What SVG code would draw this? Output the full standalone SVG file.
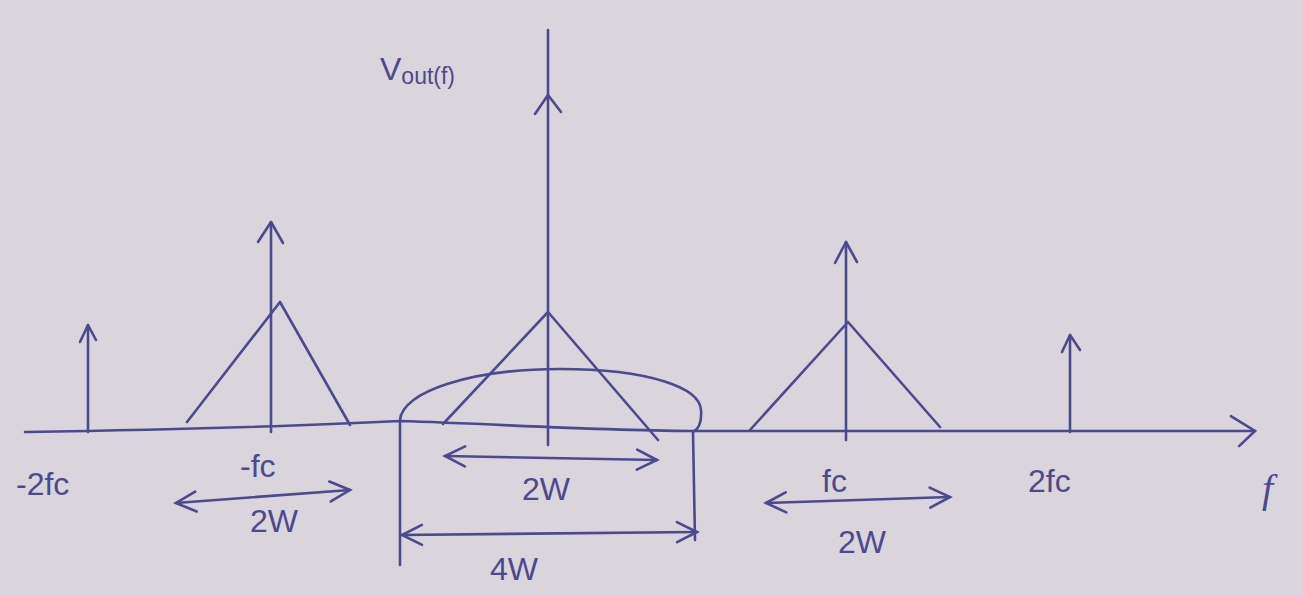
<svg xmlns="http://www.w3.org/2000/svg" width="1303" height="596" viewBox="0 0 1303 596">
<defs>
<style>
.ink{fill:none;stroke:#4b4a8c;stroke-width:2.6;stroke-linecap:round;stroke-linejoin:round}
.lbl{fill:#4b4a8c;font-family:"Liberation Sans","DejaVu Sans",sans-serif;font-size:32px}
.big{font-size:40px;font-style:italic;font-family:"Liberation Serif",serif}
</style>
<marker id="oa" markerUnits="userSpaceOnUse" markerWidth="30" markerHeight="30" refX="22" refY="12" orient="auto-start-reverse" viewBox="0 0 30 24">
<path d="M2,2 L22,12 L2,22" fill="none" stroke="#4b4a8c" stroke-width="2.6" stroke-linecap="round"/>
</marker>
<marker id="ob" markerUnits="userSpaceOnUse" markerWidth="34" markerHeight="40" refX="26" refY="17" orient="auto" viewBox="0 0 34 34">
<path d="M2,2 L26,17 L10,32" fill="none" stroke="#4b4a8c" stroke-width="2.6" stroke-linecap="round"/>
</marker>
</defs>
<rect width="1303" height="596" fill="#dad4dd"/>
<g id="connectors">
<path id="f-axis" class="ink" d="M25,432 C150,430 300,426 400,421 C500,424 600,431 700,431 C900,430 1100,432 1255,431" marker-end="url(#ob)"/>
<path id="v-axis" class="ink" d="M548,30 L548,445"/>
<polyline class="ink" points="535,114 548,95 561,112"/>
<path id="dim-neg" class="ink" d="M176,503 L350,490" marker-start="url(#oa)" marker-end="url(#oa)"/>
<path id="dim-center" class="ink" d="M445,456 L657,460" marker-start="url(#oa)" marker-end="url(#oa)"/>
<path id="tick-l" class="ink" d="M400,421 L400,565"/>
<path id="tick-r" class="ink" d="M693,432 L695,540"/>
<path id="dim-4w" class="ink" d="M402,535 L697,532" marker-start="url(#oa)" marker-end="url(#oa)"/>
<path id="dim-pos" class="ink" d="M766,503 L950,497" marker-start="url(#oa)" marker-end="url(#oa)"/>
</g>
<g id="impulse-neg2fc">
<path class="ink" d="M88,432 L88,325"/>
<polyline class="ink" points="80,342 88,325 96,340"/>
</g>
<g id="triangle-negfc">
<path class="ink" d="M187,422 L280,302 L350,425"/>
<path class="ink" d="M271,432 L271,222"/>
<polyline class="ink" points="258,242 271,222 283,243"/>
</g>
<g id="triangle-center">
<path class="ink" d="M443,424 L548,312 L658,440"/>
</g>
<g id="lobe">
<path class="ink" d="M400,420 C402,392 470,369 560,369 C650,369 700,388 701,410 C702,424 697,430 693,432"/>
</g>
<g id="triangle-fc">
<path class="ink" d="M750,430 L848,322 L940,427"/>
<path class="ink" d="M846,440 L846,242"/>
<polyline class="ink" points="835,263 846,242 857,262"/>
</g>
<g id="impulse-2fc">
<path class="ink" d="M1070,432 L1070,335"/>
<polyline class="ink" points="1062,352 1070,335 1080,350"/>
</g>
<g id="labels">
<text class="lbl" x="380" y="80">V<tspan font-size="23" dy="4">out(f)</tspan></text>
<text class="lbl" x="16" y="495">-2fc</text>
<text class="lbl" x="240" y="477">-fc</text>
<text class="lbl" x="250" y="532">2W</text>
<text class="lbl" x="522" y="500">2W</text>
<text class="lbl" x="490" y="580">4W</text>
<text class="lbl" x="822" y="492">fc</text>
<text class="lbl" x="838" y="553">2W</text>
<text class="lbl" x="1028" y="492">2fc</text>
<text class="lbl big" x="1262" y="502">f</text>
</g>
</svg>
